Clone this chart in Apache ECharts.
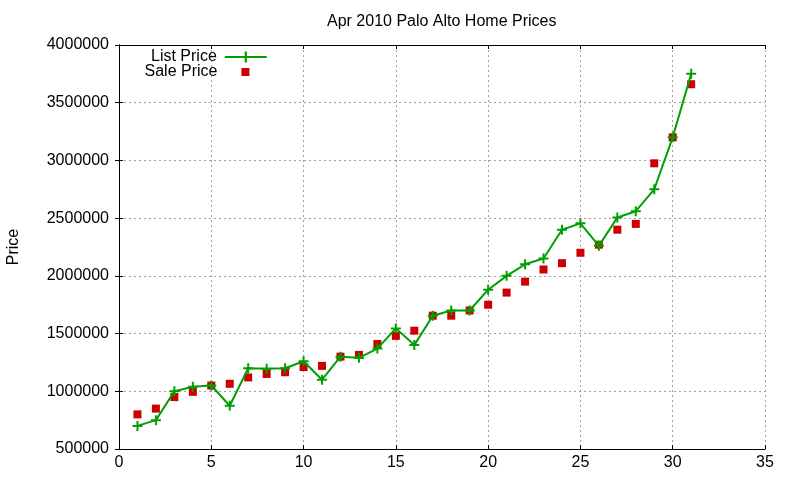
<!DOCTYPE html>
<html>
<head>
<meta charset="utf-8">
<script src="https://cdn.jsdelivr.net/npm/echarts@6/dist/echarts.min.js"></script>
<style>html,body{margin:0;padding:0;background:#fff}#c{width:800px;height:480px}</style>
</head>
<body>
<div id="c"></div>
<script>
const days = [1,2,3,4,5,6,7,8,9,10,11,12,13,14,15,16,17,18,19,20,21,22,23,24,25,26,27,28,29,30,31];
const listPrice = [700000,750000,1000000,1040000,1050000,875000,1200000,1195000,1200000,1260000,1100000,1300000,1290000,1370000,1545000,1400000,1655000,1700000,1700000,1880000,2000000,2100000,2150000,2400000,2455000,2260000,2505000,2560000,2750000,3200000,3750000];
const salePrice = [800000,850000,950000,995000,1050000,1065000,1120000,1150000,1165000,1210000,1220000,1300000,1315000,1410000,1480000,1525000,1655000,1655000,1700000,1750000,1855000,1950000,2055000,2110000,2200000,2270000,2400000,2450000,2975000,3200000,3660000];
const xTicks = {min: 0, max: 35, interval: 5};
const yTicks = {min: 500000, max: 4000000, interval: 500000};
const titleText = 'Apr 2010 Palo Alto Home Prices';

const FONT = 'Liberation Sans, Arial, sans-serif';
const green = '#00a000', red = '#cc0000';
const plus = 'path://M4,0H6V4H10V6H6V10H4V6H0V4H4Z';
const splitStyle = {show: true, lineStyle: {color: '#a0a0a0', type: [2, 3], width: 1}};
const lineAx = {show: true, lineStyle: {color: '#000', width: 1}};
const tickIn = {show: true, inside: true, length: 4, lineStyle: {color: '#000'}};

const chart = echarts.init(document.getElementById('c'), null, {renderer: 'canvas'});
chart.setOption({
  animation: false,
  backgroundColor: '#fff',
  textStyle: {fontFamily: FONT},
  title: {text: titleText, left: 327, top: 14, padding: 0,
    textStyle: {fontFamily: FONT, fontSize: 16, fontWeight: 'normal', color: '#000'}},
  grid: {left: 119, right: 35, top: 45, bottom: 31, containLabel: false, outerBoundsMode: 'none'},
  legend: [
    {data: ['List Price'], orient: 'vertical', align: 'right', left: 151, top: 49, padding: 0,
     itemWidth: 42, itemHeight: 14, selectedMode: false,
     textStyle: {fontFamily: FONT, fontSize: 16, color: '#000', padding: [0, 3, 0, 0]}},
    {data: ['Sale Price'], orient: 'vertical', align: 'right', left: 144.5, top: 64, padding: 0,
     itemWidth: 8, itemHeight: 8, selectedMode: false,
     textStyle: {fontFamily: FONT, fontSize: 16, color: '#000', padding: [0, 19, 0, 0]}}
  ],
  xAxis: [
    {type: 'value', min: xTicks.min, max: xTicks.max, interval: xTicks.interval, position: 'bottom',
     axisLine: lineAx, axisTick: tickIn, splitLine: splitStyle,
     axisLabel: {fontFamily: FONT, fontSize: 16, color: '#000', margin: 6}},
    {type: 'value', min: xTicks.min, max: xTicks.max, interval: xTicks.interval, position: 'top',
     axisLine: lineAx, axisTick: tickIn, splitLine: {show: false}, axisLabel: {show: false}}
  ],
  yAxis: [
    {type: 'value', min: yTicks.min, max: yTicks.max, interval: yTicks.interval, position: 'left',
     name: 'Price', nameLocation: 'middle', nameGap: 97,
     nameTextStyle: {fontFamily: FONT, fontSize: 16, color: '#000'},
     axisLine: lineAx, axisTick: tickIn, splitLine: splitStyle,
     axisLabel: {fontFamily: FONT, fontSize: 16, color: '#000', margin: 10, formatter: v => String(v)}},
    {type: 'value', min: yTicks.min, max: yTicks.max, interval: yTicks.interval, position: 'right',
     axisLine: lineAx, axisTick: tickIn, splitLine: {show: false}, axisLabel: {show: false}}
  ],
  series: [
    {name: 'List Price', type: 'line', xAxisIndex: 0, yAxisIndex: 0,
     data: days.map((d, i) => [d, listPrice[i]]),
     symbol: plus, symbolSize: 10, showSymbol: true, showAllSymbol: true,
     lineStyle: {color: green, width: 2}, itemStyle: {color: green}},
    {name: 'Sale Price', type: 'scatter', xAxisIndex: 0, yAxisIndex: 0,
     data: days.map((d, i) => [d, salePrice[i]]),
     symbol: 'rect', symbolSize: 8, itemStyle: {color: red, opacity: 1}}
  ]
});
</script>
</body>
</html>
